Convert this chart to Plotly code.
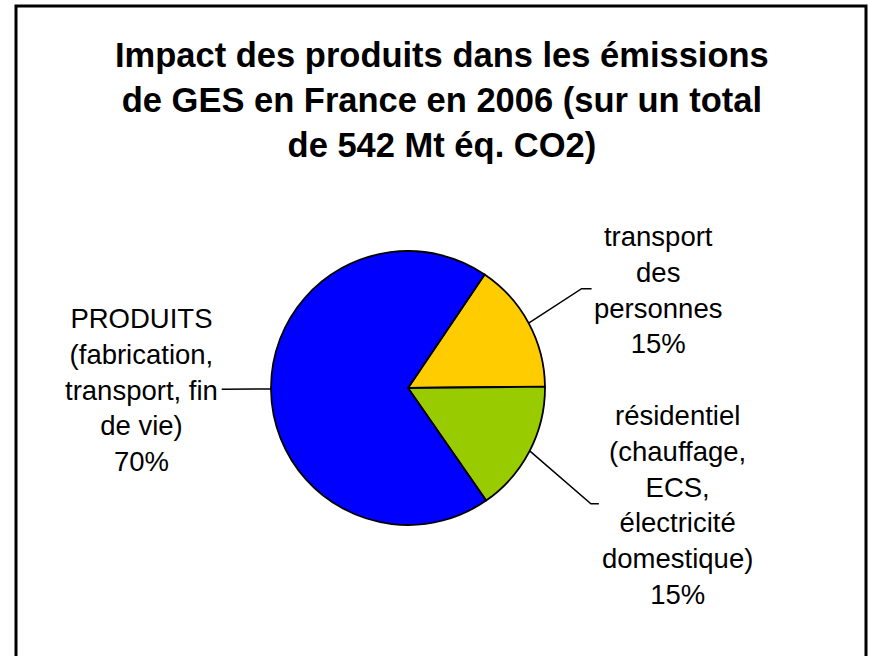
import math
import plotly.graph_objs as go

# data
categories = ["transport des personnes", "résidentiel", "PRODUITS"]
values = [15.4, 15.5, 69.1]
percent_labels = ["15%", "15%", "70%"]
label_texts = [
    "transport<br>des<br>personnes",
    "résidentiel<br>(chauffage,<br>ECS,<br>électricité<br>domestique)",
    "PRODUITS<br>(fabrication,<br>transport, fin<br>de vie)",
]
colors = ["#FFCC00", "#99CC00", "#0000FF"]
title_text = ("Impact des produits dans les émissions<br>"
              "de GES en France en 2006 (sur un total<br>"
              "de 542 Mt éq. CO2)")

W, H = 869, 656
CX, CY, R = 408, 388, 137
START_ANGLE = 34  # degrees clockwise from 12 o'clock

# label placement (pixels) and leader line shape
label_centers = [(658, 290), (677, 505), (141, 390)]
leader_radius = [1.46, 1.58, 1.36]
leader_turn = [-1.5, 5, 0]
leader_tail = [10, 8, 0]


def px(x):
    return x / W


def py(y):
    return 1 - y / H


fig = go.Figure()
fig.add_trace(
    go.Pie(
        labels=categories,
        values=values,
        sort=False,
        direction="clockwise",
        rotation=START_ANGLE,
        marker={"colors": colors, "line": {"color": "black", "width": 1.8}},
        textinfo="none",
        hoverinfo="label+percent",
        showlegend=False,
        domain={"x": [px(CX - R), px(CX + R)], "y": [py(CY + R), py(CY - R)]},
    )
)

# leader lines start at each slice's mid angle
shapes = []
total = sum(values)
acc = 0
for i, v in enumerate(values):
    mid = START_ANGLE + (acc + v / 2) / total * 360
    acc += v
    a = math.radians(mid)
    b = math.radians(mid + leader_turn[i])
    x0, y0 = CX + R * math.sin(a), CY - R * math.cos(a)
    x1 = CX + R * leader_radius[i] * math.sin(b)
    y1 = CY - R * leader_radius[i] * math.cos(b)
    x2 = x1 + leader_tail[i] * (1 if x1 > CX else -1)
    path = f"M {px(x0)},{py(y0)} L {px(x1)},{py(y1)} L {px(x2)},{py(y1)}"
    shapes.append(dict(type="path", xref="paper", yref="paper", path=path,
                       line={"color": "black", "width": 1.5}))

# outer border
shapes.append(dict(type="rect", xref="paper", yref="paper",
                   x0=px(16), x1=px(866), y0=-0.05, y1=py(6),
                   line={"color": "black", "width": 3}, fillcolor="rgba(0,0,0,0)"))

annotations = [dict(
    x=px(442), y=py(100), xref="paper", yref="paper",
    text="<b>" + title_text + "</b>", showarrow=False,
    xanchor="center", yanchor="middle", align="center",
    font={"family": "Liberation Sans, Arial", "size": 34.5, "color": "black"},
)]
for (lx, ly), txt, pct in zip(label_centers, label_texts, percent_labels):
    annotations.append(dict(
        x=px(lx), y=py(ly), xref="paper", yref="paper",
        text=txt + "<br>" + pct, showarrow=False,
        xanchor="center", yanchor="middle", align="center",
        font={"family": "Liberation Sans, Arial", "size": 27.5, "color": "black"},
    ))

fig.update_layout(
    width=W,
    height=H,
    margin={"l": 0, "r": 0, "t": 0, "b": 0},
    paper_bgcolor="white",
    plot_bgcolor="white",
    shapes=shapes,
    annotations=annotations,
)

fig.write_html("out.html", config={"displayModeBar": False},
               post_script="document.body.style.margin = '0';")
